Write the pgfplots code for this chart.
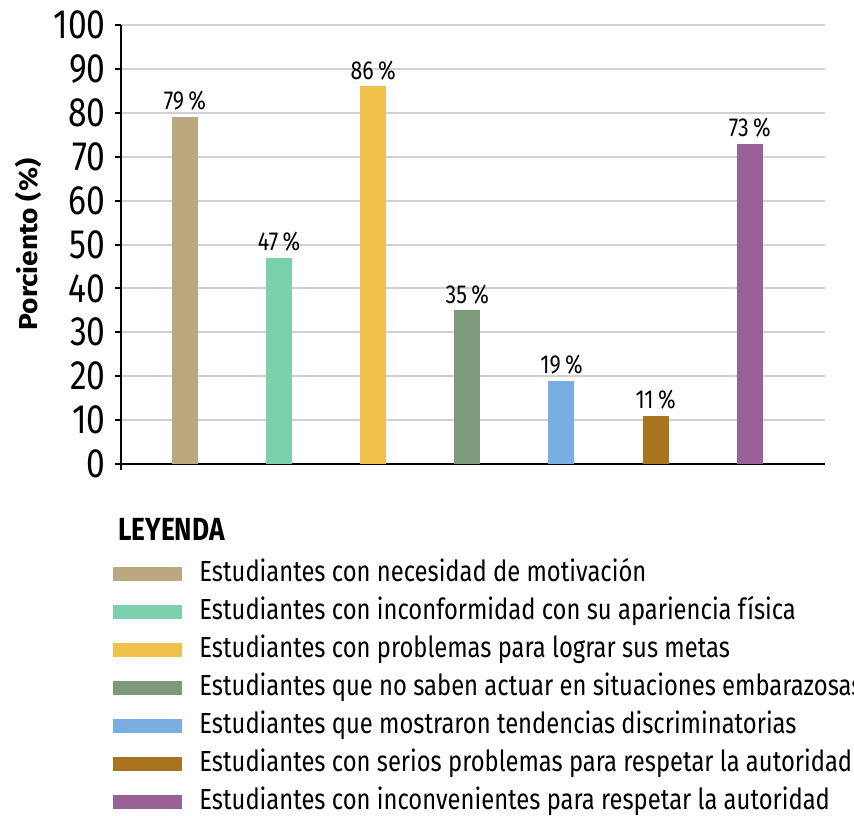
\documentclass[border=0pt]{standalone}
\usepackage{fontspec}
\setmainfont[FakeStretch=0.82]{Fira Sans}
\newfontfamily\labfont[FakeStretch=1.08]{Fira Sans}
\usepackage{pgfplots}
\pgfplotsset{compat=1.18}
\definecolor{c1}{HTML}{BAA97F}
\definecolor{c2}{HTML}{7BD0AC}
\definecolor{c3}{HTML}{EEC24B}
\definecolor{c4}{HTML}{7A9A7B}
\definecolor{c5}{HTML}{7AAEE2}
\definecolor{c6}{HTML}{A8741F}
\definecolor{c7}{HTML}{9A6198}
\pgfplotsset{mylegend/.style={legend image code/.code={\fill[##1,draw=none] (0pt,-3.5pt) rectangle (34.5pt,3.5pt);}}}
\begin{document}
\begin{tikzpicture}
\begin{axis}[
  scale only axis, width=352pt, height=219.5pt,
  xmin=-0.68, xmax=6.8, ymin=0, ymax=100,
  axis lines=left, axis line style={-, line width=1.4pt},
  y axis line style={shorten <=-3pt},
  ytick={0,10,...,100}, xtick=\empty,
  ymajorgrids, grid style={line width=1pt, color=black!18},
  major tick length=3pt, tick style={line width=1pt, black}, tick align=outside,
  yticklabel style={font=\fontsize{20.5}{21}\selectfont, inner sep=4.5pt},
  /pgf/number format/assume math mode=true,
  ylabel={\labfont\bfseries Porciento (\%)},
  ylabel style={font=\fontsize{13}{13}\selectfont, at={(axis description cs:-0.132,0.5)}, anchor=center},
  ybar, bar width=13pt, bar shift=0pt,
  nodes near coords={\pgfmathprintnumber{\pgfplotspointmeta}\,\%},
  nodes near coords style={font=\fontsize{13}{13}\selectfont, black, inner sep=3pt},
  legend style={at={(rel axis cs:-0.0114,-0.216)}, anchor=north west, draw=none, fill=none,
    font=\fontsize{14.5}{15}\selectfont, inner sep=0pt, row sep=4pt,
    nodes={inner sep=0pt, text height=11pt, text depth=4pt},
    /tikz/every odd column/.style={column sep=8.5pt}},
  legend cell align=left,
  clip=false,
]
\addplot[fill=c1, draw=none, mylegend] coordinates {(0,79)};
\addplot[fill=c2, draw=none, mylegend] coordinates {(1,47)};
\addplot[fill=c3, draw=none, mylegend] coordinates {(2,86)};
\addplot[fill=c4, draw=none, mylegend] coordinates {(3,35)};
\addplot[fill=c5, draw=none, mylegend] coordinates {(4,19)};
\addplot[fill=c6, draw=none, mylegend] coordinates {(5,11)};
\addplot[fill=c7, draw=none, mylegend] coordinates {(6,73)};
\legend{Estudiantes con necesidad de motivación,
Estudiantes con inconformidad con su apariencia física,
Estudiantes con problemas para lograr sus metas,
Estudiantes que no saben actuar en situaciones embarazosas,
Estudiantes que mostraron tendencias discriminatorias,
Estudiantes con serios problemas para respetar la autoridad,
Estudiantes con inconvenientes para respetar la autoridad}
\coordinate (bl) at (rel axis cs:0,0);
\coordinate (tr) at (rel axis cs:1,1);
\node[anchor=west, inner sep=0pt, font=\fontsize{16}{16}\bfseries] at ([xshift=-1.5pt,yshift=-32.5pt]rel axis cs:0,0) {LEYENDA};
\end{axis}
\pgfresetboundingbox
\path ([shift={(-60.5pt,-175.5pt)}]bl) rectangle ([shift={(14.5pt,12.5pt)}]tr);
\end{tikzpicture}
\end{document}
